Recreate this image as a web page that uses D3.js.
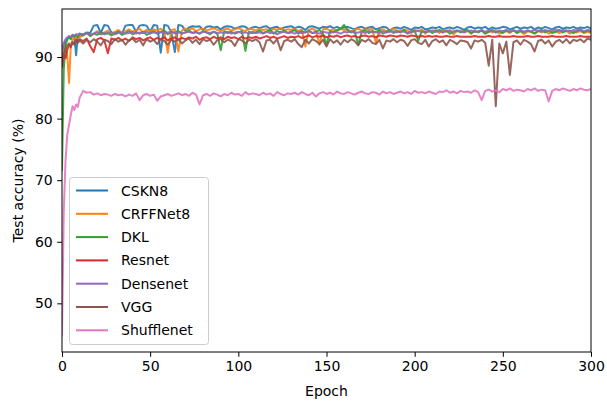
<!DOCTYPE html>
<html>
<head>
<meta charset="utf-8">
<script src="https://cdn.jsdelivr.net/npm/d3@7"></script>
<style>
  html, body { margin: 0; padding: 0; background: #fff; }
  svg { display: block; font-family: "DejaVu Sans", sans-serif; }
</style>
</head>
<body>
<div id="chart"></div>
<script>
// epochs: every epoch up to 9, then every second epoch
const epochs = [0, 1, 2, 3, 4, 5, 6, 7, 8, 9, ...d3.range(10, 301, 2)];

const seriesNames = ['CSKN8', 'CRFFNet8', 'DKL', 'Resnet', 'Densenet', 'VGG', 'Shufflenet'];
const seriesColors = ['#1f77b4', '#ff7f0e', '#2ca02c', '#d62728', '#9467bd', '#8c564b', '#e377c2'];

const cskn8 = [
  88.6, 91.8, 92.6, 93.0, 93.3, 92.9, 93.6, 93.4, 90.3, 93.5,
  93.8, 93.6, 94.0, 93.9, 95.1, 95.2, 93.9, 95.2, 95.1, 94.0,
  93.9, 94.2, 93.8, 95.1, 95.2, 95.2, 94.1, 95.1, 95.2, 95.1,
  94.1, 95.2, 95.1, 90.7, 95.2, 95.1, 94.0, 90.8, 95.2, 95.1,
  94.3, 94.8, 95.0, 94.9, 95.0, 94.4, 94.9, 95.0, 94.8, 94.9,
  94.5, 94.9, 95.0, 94.9, 94.6, 94.8, 95.0, 94.9, 94.5, 94.8,
  94.9, 94.7, 94.9, 95.0, 94.6, 94.8, 94.9, 94.5, 94.8, 94.9,
  95.0, 94.7, 94.9, 94.8, 94.4, 94.9, 95.0, 94.8, 94.6, 94.9,
  94.8, 95.0, 94.7, 94.9, 94.6, 94.8, 94.9, 94.7, 94.5, 94.8,
  94.9, 94.6, 94.8, 94.9, 94.5, 94.7, 94.9, 94.8, 94.3, 94.7,
  94.8, 94.6, 94.9, 94.7, 94.4, 94.8, 94.7, 94.9, 94.5, 94.6,
  94.8, 94.7, 94.9, 94.5, 94.7, 94.8, 94.6, 94.9, 94.7, 94.4,
  94.8, 94.9, 94.6, 94.8, 94.7, 94.9, 94.5, 94.8, 94.6, 94.7,
  94.9, 94.8, 94.5, 94.7, 94.9, 94.6, 94.8, 94.7, 94.9, 94.5,
  94.8, 94.6, 94.9, 94.7, 94.5, 94.8, 94.9, 94.6, 94.8, 94.7,
  94.9, 94.6, 94.8, 94.7, 94.9, 94.6
];

const crffnet8 = [
  89.4, 90.8, 91.9, 90.2, 85.8, 92.0, 92.8, 93.1, 92.9, 93.4,
  93.2, 93.6, 93.9, 93.5, 93.8, 94.2, 93.7, 94.0, 94.3, 93.8,
  94.1, 94.4, 93.9, 94.2, 94.5, 94.1, 94.3, 94.6, 94.0, 94.4,
  94.2, 94.5, 94.3, 94.6, 94.1, 90.7, 94.4, 94.5, 90.9, 94.3,
  94.6, 94.4, 94.7, 94.2, 94.5, 94.6, 94.3, 94.5, 94.7, 94.4,
  94.2, 94.5, 94.6, 94.3, 94.5, 94.7, 94.4, 94.2, 94.6, 94.5,
  94.3, 94.6, 94.4, 94.5, 94.2, 94.6, 94.4, 94.7, 94.3, 94.5,
  94.4, 94.6, 94.2, 94.5, 91.7, 94.4, 94.6, 94.3, 92.0, 94.5,
  94.6, 94.3, 94.5, 94.2, 94.6, 94.4, 94.5, 94.1, 94.4, 94.6,
  94.3, 94.5, 94.4, 94.6, 92.3, 94.4, 94.5, 94.2, 94.4, 94.6,
  94.3, 94.1, 94.5, 94.3, 93.9, 94.4, 94.2, 94.5, 93.8, 94.3,
  94.2, 94.4, 93.9, 94.3, 94.1, 94.4, 93.7, 94.2, 94.3, 94.0,
  94.3, 93.8, 94.2, 94.1, 94.3, 93.9, 94.2, 94.0, 94.3, 93.8,
  94.1, 94.2, 93.9, 94.3, 94.0, 94.2, 93.7, 94.1, 94.2, 93.9,
  94.2, 94.0, 94.3, 93.8, 94.1, 94.2, 93.9, 94.1, 94.3, 93.8,
  94.1, 94.0, 94.2, 93.9, 94.1, 93.9
];

const dkl = [
  71.5, 88.0, 91.9, 92.8, 93.2, 93.0, 93.5, 93.3, 93.6, 93.2,
  93.7, 93.5, 93.9, 93.4, 93.8, 93.6, 94.0, 93.7, 93.9, 93.5,
  93.8, 94.1, 93.6, 93.9, 94.2, 93.7, 94.0, 93.8, 94.1, 93.6,
  93.9, 94.2, 93.8, 94.0, 94.3, 93.7, 94.1, 93.9, 94.2, 93.8,
  94.0, 94.3, 93.9, 94.1, 93.8, 94.2, 94.0, 93.7, 94.1, 93.9,
  91.1, 94.2, 93.9, 94.1, 93.8, 94.0, 94.2, 91.0, 94.1, 93.9,
  94.0, 94.3, 93.9, 94.1, 94.4, 93.8, 94.2, 94.0, 94.3, 93.9,
  94.1, 94.4, 93.8, 94.2, 94.0, 94.3, 93.9, 94.1, 94.4, 93.8,
  92.0, 94.2, 94.0, 94.4, 94.6, 95.2, 94.3, 94.0, 94.2, 92.0,
  94.1, 94.3, 93.9, 94.2, 94.0, 94.4, 93.8, 94.1, 94.3, 93.9,
  94.2, 94.0, 94.4, 93.8, 94.1, 94.3, 92.6, 94.2, 94.0, 94.3,
  93.9, 94.2, 94.4, 94.0, 94.3, 93.8, 94.1, 94.3, 94.0, 94.2,
  94.4, 93.9, 94.2, 94.0, 94.3, 93.8, 94.1, 94.4, 94.0, 94.2,
  93.9, 94.3, 94.1, 94.4, 93.9, 94.2, 94.0, 94.3, 94.1, 93.8,
  94.2, 94.4, 94.0, 94.3, 93.9, 94.1, 94.4, 94.0, 94.2, 94.3,
  93.9, 94.2, 94.4, 94.0, 94.3, 94.1
];

const resnet = [
  88.5, 90.3, 89.8, 91.2, 92.0, 91.6, 92.4, 92.1, 92.8, 92.5,
  92.9, 92.6, 93.0, 91.8, 90.8, 92.9, 93.1, 92.7, 90.6, 93.0,
  92.8, 93.1, 92.7, 93.0, 92.6, 93.2, 92.9, 93.1, 92.7, 93.0,
  93.2, 92.8, 93.1, 92.9, 93.2, 92.7, 93.0, 93.2, 92.8, 93.1,
  92.9, 93.2, 93.0, 93.3, 92.8, 93.1, 93.2, 92.9, 93.3, 93.0,
  93.2, 92.9, 93.3, 93.1, 93.2, 92.9, 93.3, 93.0, 93.2, 93.1,
  93.3, 93.0, 93.2, 93.4, 93.1, 93.3, 93.0, 93.2, 93.4, 93.1,
  93.3, 93.2, 93.4, 93.1, 93.3, 93.5, 93.2, 93.4, 93.3, 93.5,
  93.2, 93.4, 93.3, 93.5, 93.2, 93.4, 93.5, 93.3, 93.4, 93.2,
  93.4, 93.5, 93.3, 93.4, 93.2, 93.5, 93.4, 93.3, 93.5, 93.4,
  93.3, 93.5, 93.4, 93.3, 93.5, 93.4, 93.3, 93.4, 93.3, 93.4,
  93.3, 93.4, 93.3, 93.3, 93.4, 93.3, 93.3, 93.4, 93.3, 93.3,
  93.3, 93.3, 93.4, 93.3, 93.3, 93.3, 93.4, 93.3, 93.3, 93.4,
  93.3, 93.3, 93.3, 93.4, 93.3, 93.3, 93.3, 93.4, 93.3, 93.3,
  93.4, 93.3, 93.3, 93.3, 93.4, 93.3, 93.3, 93.3, 93.4, 93.3,
  93.3, 93.3, 93.4, 93.3, 93.3, 93.3
];

const densenet = [
  91.2, 92.3, 92.9, 93.2, 93.4, 93.3, 93.6, 93.5, 93.7, 93.6,
  93.8, 93.7, 93.9, 93.6, 93.8, 94.0, 93.7, 93.9, 93.8, 94.0,
  93.7, 93.9, 94.0, 93.8, 93.9, 94.1, 93.8, 94.0, 93.9, 94.1,
  93.8, 94.0, 93.9, 94.1, 93.8, 94.0, 94.1, 93.9, 94.0, 93.8,
  94.0, 94.1, 93.9, 94.0, 93.8, 94.1, 94.0, 93.9, 94.1, 93.8,
  94.0, 93.9, 94.1, 93.8, 94.0, 94.1, 93.9, 94.0, 93.8, 94.1,
  93.9, 94.0, 93.8, 94.1, 93.9, 94.0, 93.7, 94.0, 94.1, 93.9,
  94.0, 93.8, 94.1, 93.9, 94.0, 94.2, 93.9, 94.0, 93.8, 94.1,
  94.0, 93.9, 94.1, 94.0, 93.8, 94.1, 94.0, 94.2, 93.9, 94.0,
  94.1, 93.9, 94.2, 94.0, 94.1, 93.9, 94.2, 94.0, 94.1, 94.2,
  94.0, 94.2, 94.1, 93.9, 94.2, 94.1, 94.3, 94.0, 94.2, 94.1,
  94.3, 94.1, 94.2, 94.0, 94.3, 94.2, 94.1, 94.3, 94.2, 94.0,
  94.2, 94.3, 94.1, 94.2, 94.4, 94.1, 94.3, 94.2, 94.0, 94.3,
  94.2, 94.4, 94.1, 94.3, 94.2, 94.4, 94.1, 94.3, 94.2, 94.4,
  94.3, 94.1, 94.4, 94.2, 94.3, 94.5, 94.2, 94.4, 94.3, 94.1,
  94.4, 94.3, 94.5, 94.2, 94.4, 94.3
];

const vgg = [
  88.2, 90.6, 91.4, 91.9, 92.2, 91.8, 92.4, 92.0, 92.6, 92.3,
  92.7, 92.2, 92.8, 92.4, 92.9, 92.5, 91.9, 92.8, 92.6, 92.1,
  92.9, 92.5, 92.8, 92.0, 92.7, 93.0, 92.4, 92.8, 91.9, 92.9,
  92.5, 92.8, 92.1, 92.9, 92.6, 92.0, 92.8, 92.5, 92.9, 92.2,
  92.7, 93.0, 92.3, 92.8, 92.1, 92.9, 92.6, 92.8, 92.0, 92.7,
  92.9, 92.4, 92.8, 92.6, 91.8, 92.9, 92.7, 92.2, 92.8, 92.6,
  92.9, 92.4, 90.9, 92.7, 92.8, 92.2, 92.9, 91.1, 92.6, 92.8,
  92.5, 92.9, 92.1, 91.6, 92.8, 92.2, 92.9, 92.6, 92.1, 92.8,
  91.7, 92.9, 92.3, 92.7, 92.0, 92.8, 92.4, 92.9, 92.6, 91.9,
  92.8, 92.5, 92.9, 92.3, 92.1, 92.8, 91.4, 92.7, 92.5, 92.9,
  92.4, 92.8, 92.6, 91.8, 92.7, 92.9, 92.3, 92.1, 92.8, 91.7,
  92.6, 92.9, 92.4, 92.7, 91.9, 92.8, 92.5, 92.1, 92.7, 92.6,
  92.4, 91.4, 92.7, 92.5, 92.8, 92.3, 88.6, 92.8, 82.0, 92.2,
  90.6, 92.5, 87.1, 92.4, 92.7, 92.0, 92.8, 92.5, 92.1, 90.9,
  92.6, 92.8, 92.2, 92.7, 91.7, 92.5, 92.8, 92.3, 92.9, 92.2,
  92.8, 92.6, 92.9, 92.4, 93.0, 92.8
];

const shufflenet = [
  44.6, 65.0, 73.2, 77.4, 79.0, 80.6, 82.0, 81.4, 82.3, 81.9,
  83.4, 84.5, 84.2, 84.3, 83.9, 84.1, 83.8, 84.0, 83.9, 83.7,
  84.0, 83.8, 83.9, 83.6, 83.9, 83.7, 84.1, 83.0, 83.8, 84.0,
  83.7, 83.9, 82.9, 83.6, 83.8, 84.0, 83.7, 83.9, 84.1, 83.8,
  84.0, 83.7, 84.2, 83.9, 82.3, 83.8, 84.0, 83.7, 84.1, 83.9,
  83.6, 84.0, 83.8, 84.2, 83.9, 84.0, 83.7, 84.3, 83.9, 84.1,
  84.0, 83.8, 84.2, 83.9, 84.1, 83.7, 84.3, 84.0, 83.8, 84.1,
  84.0, 84.2, 83.9, 84.3, 84.0, 83.8, 84.2, 83.6, 84.1, 84.3,
  84.0, 84.2, 83.9, 84.4, 84.1, 84.0, 84.3, 84.1, 83.9, 84.2,
  84.4, 84.1, 84.0, 84.3, 84.2, 83.9, 84.4, 84.1, 84.3, 84.0,
  84.2, 84.4, 84.1, 84.3, 84.0, 84.5, 84.2, 84.3, 84.1, 84.4,
  84.2, 84.0, 84.4, 84.3, 84.6, 84.2, 84.4, 84.1, 84.5, 84.3,
  84.4, 84.2, 84.6, 84.3, 83.0, 84.5, 84.7, 84.4, 84.6, 84.3,
  84.8, 84.6, 84.9, 84.5, 84.7, 84.6, 84.4, 84.8, 84.6, 84.9,
  84.5, 84.7, 84.6, 82.8, 84.5, 84.8, 84.6, 84.9, 84.7, 84.5,
  84.8, 84.6, 84.9, 84.7, 84.6, 84.8
];

const xTicks = [0, 50, 100, 150, 200, 250, 300];
const yTicks = [50, 60, 70, 80, 90];

const seriesValues = [cskn8, crffnet8, dkl, resnet, densenet, vgg, shufflenet];

const W = 607, H = 405;
const m = { t: 9, r: 16, b: 53, l: 62 };

const svg = d3.select('#chart').append('svg')
  .attr('width', W)
  .attr('height', H);

const x = d3.scaleLinear().domain([0, 300]).range([m.l, W - m.r]);
const y = d3.scaleLinear().domain([42.1, 97.8]).range([H - m.b, m.t]);

svg.append('defs').append('clipPath').attr('id', 'plot-clip')
  .append('rect')
  .attr('x', m.l).attr('y', m.t)
  .attr('width', W - m.l - m.r).attr('height', H - m.t - m.b);

// lines
const line = d3.line()
  .x((d, i) => x(epochs[i]))
  .y(d => y(d));

svg.append('g')
  .attr('clip-path', 'url(#plot-clip)')
  .selectAll('path')
  .data(seriesValues)
  .join('path')
  .attr('d', d => line(d))
  .attr('fill', 'none')
  .attr('stroke', (d, i) => seriesColors[i])
  .attr('stroke-width', 2)
  .attr('stroke-linejoin', 'round')
  .attr('stroke-opacity', 0.9);

// axes
const xAxis = svg.append('g')
  .attr('transform', `translate(0,${H - m.b})`)
  .call(d3.axisBottom(x).tickValues(xTicks).tickSize(4.8).tickPadding(4.5));
const yAxis = svg.append('g')
  .attr('transform', `translate(${m.l},0)`)
  .call(d3.axisLeft(y).tickValues(yTicks).tickSize(4.8).tickPadding(4.5));

[xAxis, yAxis].forEach(g => {
  g.select('.domain').remove();
  g.selectAll('line').attr('stroke', '#000').attr('stroke-width', 1);
  g.selectAll('text')
    .attr('fill', '#000')
    .style('font-size', '14px')
    .style('font-family', '"DejaVu Sans", sans-serif');
});

// frame
svg.append('rect')
  .attr('x', m.l).attr('y', m.t)
  .attr('width', W - m.l - m.r).attr('height', H - m.t - m.b)
  .attr('fill', 'none')
  .attr('stroke', '#000')
  .attr('stroke-width', 1);

svg.append('text')
  .attr('x', (m.l + W - m.r) / 2)
  .attr('y', 396)
  .attr('text-anchor', 'middle')
  .style('font-size', '14px')
  .text('Epoch');

svg.append('text')
  .attr('transform', `translate(23,${(m.t + H - m.b) / 2}) rotate(-90)`)
  .attr('text-anchor', 'middle')
  .style('font-size', '14px')
  .text('Test accuracy (%)');

// legend
const lg = svg.append('g');
lg.append('rect')
  .attr('x', 69.5).attr('y', 177.5)
  .attr('width', 139).attr('height', 167)
  .attr('rx', 3)
  .attr('fill', '#fff').attr('fill-opacity', 0.8)
  .attr('stroke', '#ccc');

const rows = lg.selectAll('g.row')
  .data(seriesNames)
  .join('g')
  .attr('class', 'row')
  .attr('transform', (d, i) => `translate(0,${190.5 + i * 23.3})`);

rows.append('line')
  .attr('x1', 76).attr('x2', 108)
  .attr('stroke', (d, i) => seriesColors[i])
  .attr('stroke-width', 2);

rows.append('text')
  .attr('x', 121)
  .attr('dy', '0.36em')
  .style('font-size', '14px')
  .text(d => d);
</script>
</body>
</html>
